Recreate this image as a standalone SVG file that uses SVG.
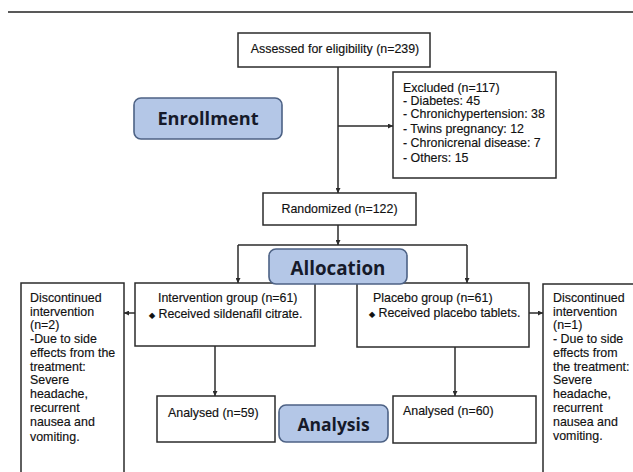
<svg xmlns="http://www.w3.org/2000/svg" width="633" height="472" viewBox="0 0 633 472">
<defs>
<style>
.box{fill:#fff;stroke:#2b2b2b;stroke-width:1.5}
.tag{fill:#b4c7e7;stroke:#4d6285;stroke-width:1.6}
.t{font-family:"Liberation Sans",Arial,sans-serif;font-size:12.4px;fill:#111;stroke:#111;stroke-width:0.15}
.b{font-family:"Open Sans","Liberation Sans",sans-serif;font-weight:bold;fill:#161a2a}
.ln{stroke:#2b2b2b;stroke-width:1.5;fill:none}
</style>
<marker id="ah" viewBox="0 0 10 10" refX="10" refY="5" markerWidth="5" markerHeight="5" orient="auto" markerUnits="userSpaceOnUse">
<path d="M0,0 L10,5 L0,10 z" fill="#2b2b2b"/>
</marker>
</defs>
<rect width="633" height="472" fill="#fff"/>
<line x1="8" y1="12" x2="633" y2="12" stroke="#222" stroke-width="1.5"/>

<g id="connectors">
<line class="ln" x1="338" y1="67" x2="338" y2="193" marker-end="url(#ah)"/>
<line class="ln" x1="338" y1="126" x2="393" y2="126" marker-end="url(#ah)"/>
<line class="ln" x1="338" y1="225" x2="338" y2="245" marker-end="url(#ah)"/>
<line class="ln" x1="238" y1="245" x2="467" y2="245"/>
<line class="ln" x1="238" y1="245" x2="238" y2="283" marker-end="url(#ah)"/>
<line class="ln" x1="467" y1="245" x2="467" y2="283" marker-end="url(#ah)"/>
<line class="ln" x1="135" y1="313" x2="124" y2="313" marker-end="url(#ah)"/>
<line class="ln" x1="529" y1="313" x2="543" y2="313" marker-end="url(#ah)"/>
<line class="ln" x1="215" y1="346" x2="215" y2="396" marker-end="url(#ah)"/>
<line class="ln" x1="455" y1="347" x2="455" y2="396" marker-end="url(#ah)"/>
</g>

<g id="assessed">
<rect class="box" x="238" y="33" width="192" height="34"/>
<text class="t" x="335" y="53" text-anchor="middle">Assessed for eligibility (n=239)</text>
</g>

<g id="excluded">
<rect class="box" x="393" y="72" width="163" height="106"/>
<text class="t" x="403" y="92">Excluded (n=117)</text>
<text class="t" x="403" y="105">- Diabetes: 45</text>
<text class="t" x="403" y="118">- Chronichypertension: 38</text>
<text class="t" x="403" y="133">- Twins pregnancy: 12</text>
<text class="t" x="403" y="147">- Chronicrenal disease: 7</text>
<text class="t" x="403" y="162">- Others: 15</text>
</g>

<g id="enrollment">
<rect class="tag" x="134" y="98" width="148" height="41" rx="7"/>
<text class="b" x="208" y="125" font-size="18.2" text-anchor="middle">Enrollment</text>
</g>

<g id="randomized">
<rect class="box" x="263" y="193" width="153" height="32"/>
<text class="t" x="339.5" y="213" text-anchor="middle">Randomized (n=122)</text>
</g>

<g id="intervention">
<rect class="box" x="135" y="283" width="180" height="63"/>
<text class="t" x="158" y="302">Intervention group (n=61)</text>
<text class="t" x="149" y="318"><tspan font-size="8">◆</tspan> Received sildenafil citrate.</text>
</g>

<g id="placebo">
<rect class="box" x="357" y="283" width="172" height="64"/>
<text class="t" x="373" y="302">Placebo group (n=61)</text>
<text class="t" x="369" y="317"><tspan font-size="8">◆</tspan> Received placebo tablets.</text>
</g>

<g id="allocation">
<rect class="tag" x="269" y="249" width="138" height="35" rx="7"/>
<text class="b" x="338" y="275" font-size="18.8" text-anchor="middle">Allocation</text>
</g>

<g id="discontinued-left">
<rect class="box" x="21" y="283" width="103" height="200"/>
<text class="t" x="30" y="302">Discontinued</text>
<text class="t" x="30" y="316">intervention</text>
<text class="t" x="30" y="329">(n=2)</text>
<text class="t" x="30" y="343">-Due to side</text>
<text class="t" x="30" y="357">effects from the</text>
<text class="t" x="30" y="371">treatment:</text>
<text class="t" x="30" y="384">Severe</text>
<text class="t" x="30" y="398">headache,</text>
<text class="t" x="30" y="412">recurrent</text>
<text class="t" x="30" y="426">nausea and</text>
<text class="t" x="30" y="441">vomiting.</text>
</g>

<g id="discontinued-right">
<rect class="box" x="543" y="284" width="100" height="200"/>
<text class="t" x="553" y="302">Discontinued</text>
<text class="t" x="553" y="316">intervention</text>
<text class="t" x="553" y="329">(n=1)</text>
<text class="t" x="553" y="343">- Due to side</text>
<text class="t" x="553" y="357">effects from</text>
<text class="t" x="553" y="371">the treatment:</text>
<text class="t" x="553" y="384">Severe</text>
<text class="t" x="553" y="398">headache,</text>
<text class="t" x="553" y="412">recurrent</text>
<text class="t" x="553" y="426">nausea and</text>
<text class="t" x="553" y="440">vomiting.</text>
</g>

<g id="analysed-left">
<rect class="box" x="157" y="396" width="118" height="46"/>
<text class="t" x="168" y="417">Analysed (n=59)</text>
</g>

<g id="analysis">
<rect class="tag" x="279" y="405" width="109" height="37" rx="7"/>
<text class="b" x="333.5" y="431" font-size="17.5" text-anchor="middle">Analysis</text>
</g>

<g id="analysed-right">
<rect class="box" x="393" y="396" width="143" height="47"/>
<text class="t" x="403" y="415">Analysed (n=60)</text>
</g>
</svg>
